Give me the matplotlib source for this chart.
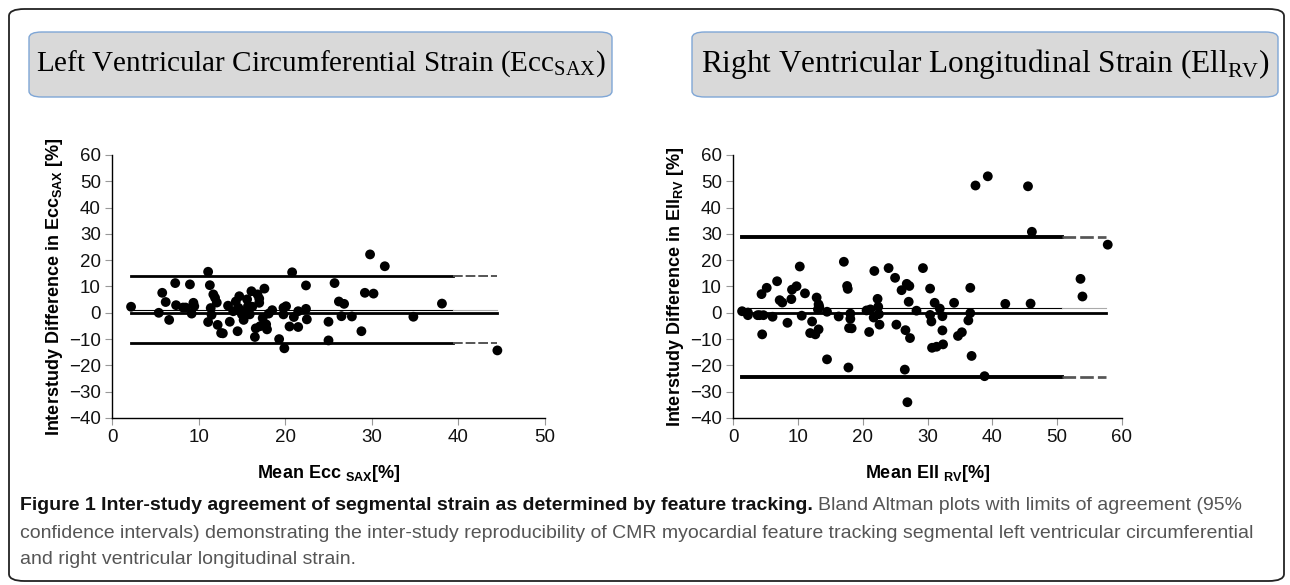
import numpy as np
import matplotlib
matplotlib.use("Agg")
import matplotlib.pyplot as plt
from matplotlib.patches import FancyBboxPatch

plt.rcParams["mathtext.fontset"] = "custom"
plt.rcParams["mathtext.rm"] = "Liberation Serif"
plt.rcParams["mathtext.bf"] = "Liberation Sans:bold"
plt.rcParams["font.family"] = ["Liberation Sans", "DejaVu Sans"]

# --- LV circumferential strain (Ecc_SAX): mean vs interstudy difference ---
ecc_mean = [2.2, 5.4, 5.8, 6.2, 6.6, 7.3, 7.4, 8.2, 8.5, 9.0, 9.2, 9.4, 9.5,
            11.1, 11.1, 11.3, 11.4, 11.5, 11.7, 11.9, 12.1, 12.2, 12.6, 12.8,
            13.4, 13.6, 14.0, 14.5, 14.3, 14.7, 14.6, 15.0, 15.2, 15.4, 15.6,
            15.7, 15.9, 16.1, 16.2, 16.5, 16.6, 16.8, 17.0, 17.0, 17.1, 17.4,
            17.6, 17.8, 17.9, 18.1, 18.5, 19.3, 19.8, 19.9, 20.1, 19.8, 20.5,
            20.8, 21.0, 21.5, 21.5, 22.4, 22.4, 22.5, 25.0, 25.0, 25.7, 26.2,
            26.5, 26.8, 27.7, 28.8, 29.2, 29.8, 30.2, 31.5, 34.8, 38.1, 44.5]
ecc_diff = [2.3, 0.0, 7.6, 4.1, -2.7, 11.3, 2.9, 2.0, 2.0, 10.8, -0.3, 3.8, 2.5,
            15.6, -3.5, 10.5, 1.8, -0.8, 7.0, 5.7, 3.9, -4.6, -7.7, -7.8,
            2.7, -3.4, 0.6, -7.0, 4.3, 6.3, 1.9, -0.6, -2.7, 0.6, 5.1,
            2.5, -0.6, 8.2, 2.3, -9.2, -5.9, 7.0, 5.4, 3.8, -5.1, -2.0,
            9.2, -4.4, -6.3, -0.3, 1.0, -10.0, 1.9, -13.5, 2.5, -0.6, -5.2,
            15.4, -1.6, 0.6, -5.4, 10.4, 1.5, -2.5, -3.4, -10.5, 11.3, 4.3,
            -1.3, 3.4, -1.4, -7.0, 7.6, 22.2, 7.3, 17.7, -1.5, 3.5, -14.3]
ecc_bias = 1.0
ecc_loa = [14.0, -11.4]
ecc_span = [2.2, 44.4]

# --- RV longitudinal strain (Ell_RV) ---
ell_mean = [1.4, 2.3, 2.3, 3.8, 4.1, 4.4, 4.5, 4.7, 5.2, 6.1, 6.8, 7.2, 7.6,
            8.4, 9.0, 9.1, 9.8, 10.3, 10.6, 11.1, 11.9, 12.2, 12.7, 12.9, 13.2,
            13.2, 13.1, 13.3, 14.5, 14.5, 16.3, 17.1, 17.6, 17.7, 17.8, 17.9,
            18.1, 18.1, 18.3, 20.6, 21.0, 21.2, 21.7, 21.8, 22.3, 22.4, 22.5,
            22.6, 24.0, 25.0, 25.2, 26.0, 26.5, 26.6, 26.8, 27.2, 27.1, 27.3,
            28.3, 29.3, 30.4, 30.4, 30.6, 30.7, 31.1, 31.4, 31.9, 32.3, 32.3,
            32.4, 34.1, 34.7, 35.3, 36.3, 36.6, 36.6, 36.8, 37.4, 38.8, 39.3,
            42.0, 45.5, 45.9, 46.1, 53.6, 53.9, 57.8, 26.9]
ell_diff = [0.6, -0.9, 0.1, -0.9, -0.9, 7.1, -8.2, -0.9, 9.5, -1.5, 12.0, 4.8, 3.9,
            -3.8, 5.2, 8.8, 10.1, 17.6, -1.1, 7.4, -7.7, -3.3, -8.2, 5.8, -6.3,
            3.2, 1.3, 2.3, -17.7, 0.4, -1.4, 19.4, 10.2, 9.1, -20.8, -5.8,
            -0.3, -2.3, -5.9, 0.9, -7.3, 1.3, -1.8, 15.9, 5.3, 2.3, -0.5,
            -4.5, 17.0, 13.3, -4.5, 8.6, -21.6, -6.6, 11.0, 10.2, 4.2, -9.6,
            0.8, 17.0, 9.2, -0.8, -3.3, -13.3, 3.8, -12.9, 1.6, -1.3, -6.7,
            -12.0, 3.8, -8.8, -7.4, -2.9, -0.1, 9.5, -16.4, 48.4, -24.1, 51.9,
            3.4, 48.1, 3.5, 30.8, 12.9, 6.2, 25.9, -34.0]
ell_bias = 1.9
ell_loa = [28.8, -24.6]
ell_span = [1.4, 57.5]

W, H = 1290, 585
fig = plt.figure(figsize=(W / 100, H / 100), dpi=100)


def fx(px):
    return px / W


def fy(py):
    return 1 - py / H


# outer frame
fig.patches.append(FancyBboxPatch((fx(9), fy(581)), fx(1275), 572 / H,
                                  boxstyle="round,pad=0,rounding_size=0.012",
                                  transform=fig.transFigure, fill=False,
                                  edgecolor="#222222", linewidth=1.3))

# title boxes
titles = [
    (29, 612, 21, "Left Ventricular Circumferential Strain (Ecc$_{\\mathrm{SAX}}$)"),
    (692, 1278, 22.5, "Right Ventricular Longitudinal Strain (Ell$_{\\mathrm{RV}}$)"),
]
for x0, x1, size, txt in titles:
    fig.patches.append(FancyBboxPatch((fx(x0), fy(97)), fx(x1 - x0), 65 / H,
                                      boxstyle="round,pad=0,rounding_size=0.01",
                                      transform=fig.transFigure,
                                      facecolor="#d9d9d9", edgecolor="#7fa6d6",
                                      linewidth=1.0))
    fig.text(fx((x0 + x1) / 2), fy(64), txt, ha="center", va="center",
             family=["Liberation Serif", "DejaVu Serif"], fontsize=size)


def bland_altman(ax, mean, diff, bias, loa, span, xmax, sub, lw_loa):
    xs = np.array(span)
    cut = span[0] + (span[1] - span[0]) * 0.88
    for y in loa:
        ax.plot([span[0], cut], [y, y], color="black", lw=lw_loa, zorder=2)
        ax.plot([cut, span[1]], [y, y], color="#555555", lw=lw_loa * 0.7,
                ls=(0, (5, 1.5)), zorder=2)
    ax.plot(xs, [0, 0], color="black", lw=2.0, zorder=2)
    ax.plot([span[0], cut], [bias, bias], color="black", lw=0.8, zorder=2)
    ax.plot([cut, span[1]], [bias, bias], color="#aaaaaa", lw=0.8, zorder=2)
    ax.scatter(mean, diff, s=50, color="black", edgecolors="none", zorder=3)
    ax.set_xlim(0, xmax)
    ax.set_ylim(-40, 60)
    ax.set_xticks(np.arange(0, xmax + 1, 10))
    ax.set_yticks(np.arange(-40, 61, 10))
    for s in ["top", "right"]:
        ax.spines[s].set_visible(False)
    for s in ["left", "bottom"]:
        ax.spines[s].set_linewidth(1.0)
    ax.tick_params(direction="out", length=5, width=0.8, color="#999999",
                   labelsize=13.5, labelcolor="#111111", pad=3)
    ax.set_xlabel("Mean " + sub[0] + " $_{\\mathbf{" + sub[1] + "}}$[%]",
                  fontsize=13, fontweight="bold", labelpad=12)
    ax.set_ylabel("Interstudy Difference in " + sub[0] + "$_{\\mathbf{" + sub[1] + "}}$ [%]",
                  fontsize=13, fontweight="bold", labelpad=3)


ax1 = fig.add_axes([fx(112), fy(418), fx(545 - 112), (418 - 155) / H])
bland_altman(ax1, ecc_mean, ecc_diff, ecc_bias, ecc_loa, ecc_span, 50,
             ("Ecc", "SAX"), 2.0)

ax2 = fig.add_axes([fx(733), fy(418), fx(1122 - 733), (418 - 155) / H])
bland_altman(ax2, ell_mean, ell_diff, ell_bias, ell_loa, ell_span, 60,
             ("Ell", "RV"), 2.8)

# caption
cap_font = ["Liberation Sans Narrow", "Liberation Sans", "DejaVu Sans"]
bold = fig.text(fx(20), fy(505), "Figure 1 Inter-study agreement of segmental strain as determined by feature tracking.",
                family=cap_font, fontsize=14, fontweight="bold", va="center",
                color="#111111")
fig.canvas.draw()
bb = bold.get_window_extent()
fig.text(bb.x1 / W + fx(5), fy(505),
         "Bland Altman plots with limits of agreement (95%",
         family=cap_font, fontsize=14, va="center", color="#555555")
fig.text(fx(20), fy(533),
         "confidence intervals) demonstrating the inter-study reproducibility of CMR myocardial feature tracking segmental left ventricular circumferential",
         family=cap_font, fontsize=14, va="center", color="#555555")
fig.text(fx(20), fy(560), "and right ventricular longitudinal strain.",
         family=cap_font, fontsize=14, va="center", color="#555555")

fig.savefig("out.png", dpi=100)
